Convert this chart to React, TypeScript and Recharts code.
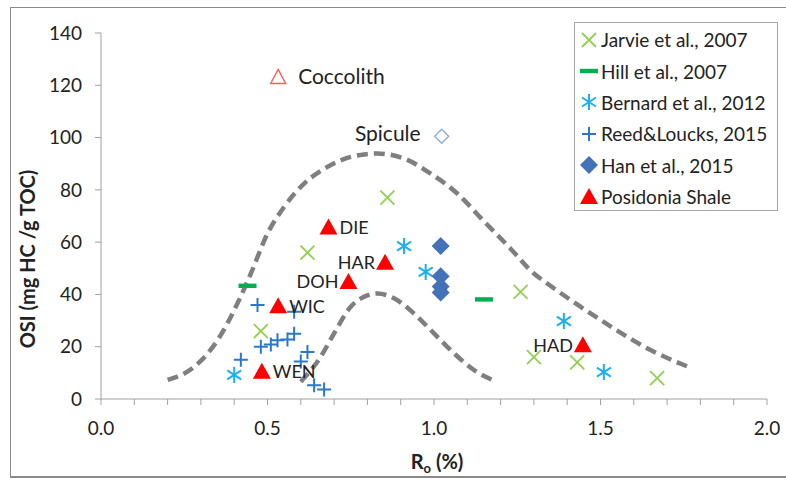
import React from 'react';
import { ScatterChart, Scatter, XAxis, YAxis, Legend } from 'recharts';

// ---------- data ----------
const xTicks = [0, 0.1, 0.2, 0.3, 0.4, 0.5, 0.6, 0.7, 0.8, 0.9, 1.0, 1.1, 1.2, 1.3, 1.4, 1.5, 1.6, 1.7, 1.8, 1.9, 2.0];
const yTicks = [0, 20, 40, 60, 80, 100, 120, 140];

const jarvie = [
  { x: 0.48, y: 26 }, { x: 0.62, y: 56 }, { x: 0.86, y: 77 }, { x: 1.26, y: 41 },
  { x: 1.30, y: 16 }, { x: 1.43, y: 14 }, { x: 1.67, y: 8 },
];
const hill = [{ x: 0.44, y: 43.3 }, { x: 1.15, y: 38.1 }];
const bernard = [
  { x: 0.40, y: 9.2 }, { x: 0.91, y: 58.5 }, { x: 0.975, y: 48.6 }, { x: 1.39, y: 29.8 }, { x: 1.51, y: 10.3 },
];
const reed = [
  { x: 0.42, y: 15 }, { x: 0.47, y: 36 }, { x: 0.48, y: 20 }, { x: 0.51, y: 20.8 },
  { x: 0.53, y: 22.5 }, { x: 0.56, y: 22.8 }, { x: 0.58, y: 25 }, { x: 0.58, y: 33.4 },
  { x: 0.60, y: 14.3 }, { x: 0.62, y: 18 }, { x: 0.64, y: 5.3 }, { x: 0.67, y: 3.6 },
];
const han = [{ x: 1.02, y: 58.5 }, { x: 1.02, y: 47 }, { x: 1.02, y: 43 }, { x: 1.02, y: 40.7 }];
const posidonia = [
  { x: 0.683, y: 65.6, name: 'DIE' }, { x: 0.853, y: 52.1, name: 'HAR' }, { x: 0.743, y: 44.8, name: 'DOH' },
  { x: 0.532, y: 35.5, name: 'WIC' }, { x: 0.483, y: 10.4, name: 'WEN' }, { x: 1.447, y: 20.6, name: 'HAD' },
];
const coccolith = [{ x: 0.532, y: 123 }];
const spicule = [{ x: 1.023, y: 100.5 }];

const upperEnvelope = [
  { x: 0.20, y: 7.3 }, { x: 0.28, y: 12.3 }, { x: 0.35, y: 22.5 }, { x: 0.41, y: 36.6 }, { x: 0.45, y: 48 },
  { x: 0.50, y: 63.3 }, { x: 0.55, y: 73.5 }, { x: 0.61, y: 82.4 }, { x: 0.68, y: 88.8 }, { x: 0.75, y: 92.6 },
  { x: 0.83, y: 93.9 }, { x: 0.91, y: 92 }, { x: 0.99, y: 86.2 }, { x: 1.07, y: 78.6 }, { x: 1.15, y: 68 },
  { x: 1.23, y: 57.5 }, { x: 1.30, y: 48 }, { x: 1.34, y: 44.2 }, { x: 1.44, y: 35.3 }, { x: 1.54, y: 27 },
  { x: 1.64, y: 19.4 }, { x: 1.77, y: 12 },
];
const lowerEnvelope = [
  { x: 0.60, y: 6.6 }, { x: 0.66, y: 16.2 }, { x: 0.70, y: 25.1 }, { x: 0.75, y: 35.3 }, { x: 0.79, y: 39.1 },
  { x: 0.83, y: 40.4 }, { x: 0.88, y: 38.5 }, { x: 0.94, y: 32.7 }, { x: 1.00, y: 25.1 }, { x: 1.06, y: 17.5 },
  { x: 1.12, y: 11.1 }, { x: 1.18, y: 7 },
];

const legendItems = [
  { key: 'jarvie', label: 'Jarvie et al., 2007' },
  { key: 'hill', label: 'Hill et al., 2007' },
  { key: 'bernard', label: 'Bernard et al., 2012' },
  { key: 'reed', label: 'Reed&Loucks, 2015' },
  { key: 'han', label: 'Han et al., 2015' },
  { key: 'posidonia', label: 'Posidonia Shale' },
];

// ---------- styles ----------
const FONT = 'Lato, "Open Sans", sans-serif';
const C = {
  jarvie: '#92D050',
  hill: '#00B050',
  bernard: '#1CB0F0',
  reed: '#2C78C6',
  han: '#4472B8',
  posidonia: '#FF0000',
  coccolith: '#FF5A5A',
  spicule: '#8EAADB',
  envelope: '#7F7F7F',
  text: '#222222',
  axis: '#A0A0A0',
};
const labelSide: Record<string, 'left' | 'right'> = {
  DIE: 'right', HAR: 'left', DOH: 'left', WIC: 'right', WEN: 'right', HAD: 'left',
};

// ---------- marker glyphs ----------
const XMark = ({ cx, cy }: any) => (
  <path d={`M${cx - 7},${cy - 7}L${cx + 7},${cy + 7}M${cx - 7},${cy + 7}L${cx + 7},${cy - 7}`} stroke={C.jarvie} strokeWidth={1.8} fill="none" />
);
const Dash = ({ cx, cy }: any) => <rect x={cx - 9} y={cy - 2.2} width={18} height={4.4} fill={C.hill} />;
const Star = ({ cx, cy }: any) => (
  <path
    d={`M${cx},${cy - 8}L${cx},${cy + 8}M${cx - 7},${cy - 4.5}L${cx + 7},${cy + 4.5}M${cx - 7},${cy + 4.5}L${cx + 7},${cy - 4.5}`}
    stroke={C.bernard} strokeWidth={2} fill="none"
  />
);
const Plus = ({ cx, cy }: any) => (
  <path d={`M${cx - 7},${cy}L${cx + 7},${cy}M${cx},${cy - 7}L${cx},${cy + 7}`} stroke={C.reed} strokeWidth={2} fill="none" />
);
const Diamond = ({ cx, cy }: any) => (
  <path d={`M${cx},${cy - 9}L${cx + 9},${cy}L${cx},${cy + 9}L${cx - 9},${cy}Z`} fill={C.han} />
);
const Tri = ({ cx, cy }: any) => (
  <path d={`M${cx},${cy - 9}L${cx + 9},${cy + 7}L${cx - 9},${cy + 7}Z`} fill={C.posidonia} />
);
const TriLabeled = (props: any) => {
  const { cx, cy, payload } = props;
  const side = labelSide[payload.name];
  return (
    <g>
      <Tri cx={cx} cy={cy} />
      <text
        x={side === 'right' ? cx + 11 : cx - 10}
        y={cy + 2}
        textAnchor={side === 'right' ? 'start' : 'end'}
        dominantBaseline="middle"
        fontFamily={FONT}
        fontSize={18}
        fill={C.text}
      >
        {payload.name}
      </text>
    </g>
  );
};
const OpenTri = ({ cx, cy }: any) => (
  <g>
    <path d={`M${cx},${cy - 8}L${cx + 7.5},${cy + 6}L${cx - 7.5},${cy + 6}Z`} fill="none" stroke={C.coccolith} strokeWidth={1.4} />
    <text x={cx + 20} y={cy + 1} dominantBaseline="middle" fontFamily={FONT} fontSize={21} fill={C.text}>Coccolith</text>
  </g>
);
const OpenDiamond = ({ cx, cy }: any) => (
  <g>
    <path d={`M${cx},${cy - 7}L${cx + 7},${cy}L${cx},${cy + 7}L${cx - 7},${cy}Z`} fill="none" stroke={C.spicule} strokeWidth={1.4} />
    <text x={cx - 21} y={cy - 1} textAnchor="end" dominantBaseline="middle" fontFamily={FONT} fontSize={21} fill={C.text}>Spicule</text>
  </g>
);
const Nothing = () => <g />;

const legendGlyph: Record<string, (p: any) => React.ReactElement> = {
  jarvie: XMark, hill: Dash, bernard: Star, reed: Plus, han: Diamond, posidonia: Tri,
};

const renderLegend = () => (
  <div
    style={{
      width: 204,
      height: 189,
      border: '1.5px solid #A6A6A6',
      background: '#fff',
      boxSizing: 'border-box',
      paddingTop: 1,
    }}
  >
    {legendItems.map((it) => {
      const G = legendGlyph[it.key];
      return (
        <div key={it.key} style={{ display: 'flex', alignItems: 'center', height: 31.4 }}>
          <svg width={26} height={24} style={{ flex: 'none' }}>
            <G cx={14} cy={12} />
          </svg>
          <span style={{ fontFamily: FONT, fontSize: 19, color: C.text, whiteSpace: 'nowrap' }}>{it.label}</span>
        </div>
      );
    })}
  </div>
);

const XTitle = ({ viewBox }: any) => {
  const cx = viewBox.x + viewBox.width / 2 + 3;
  return (
    <text x={cx} y={469} textAnchor="middle" fontFamily={FONT} fontSize={20} fontWeight={700} fill={C.text}>
      R<tspan fontSize={13} dy={4}>o</tspan>
      <tspan dy={-4}> (%)</tspan>
    </text>
  );
};
const YTitle = () => (
  <text
    transform="translate(30,259) rotate(-90)"
    textAnchor="middle"
    dominantBaseline="middle"
    fontFamily={FONT}
    fontSize={20}
    fontWeight={700}
    fill={C.text}
  >
    OSI (mg HC /g TOC)
  </text>
);

export default function App() {
  return (
    <div style={{ position: 'absolute', left: 0, top: 0, width: 786, height: 479, overflow: 'hidden', background: '#fff' }}>
      <div
        style={{
          position: 'absolute', left: 10, top: 7, width: 800, height: 468,
          borderLeft: '1px solid #8a8a8a', borderTop: '1px solid #8a8a8a', borderBottom: '2px solid #8a8a8a',
        }}
      />
      <div style={{ position: 'absolute', left: 0, top: 0 }}>
        <ScatterChart width={786} height={479} margin={{ top: 33, right: 19, bottom: 0, left: 0 }}>
          <XAxis
            type="number"
            dataKey="x"
            domain={[0, 2]}
            ticks={xTicks}
            interval={0}
            height={80}
            tickSize={6}
            tickMargin={17}
            tickFormatter={(v: number) => (Math.round(v * 10) % 5 === 0 ? v.toFixed(1) : '')}
            tick={{ fontFamily: FONT, fontSize: 19, fill: C.text }}
            stroke={C.axis}
            label={<XTitle />}
          />
          <YAxis
            type="number"
            dataKey="y"
            domain={[0, 140]}
            ticks={yTicks}
            interval={0}
            width={101}
            tickSize={6}
            tickMargin={13}
            tick={{ fontFamily: FONT, fontSize: 19, fill: C.text }}
            stroke={C.axis}
            label={<YTitle />}
          />
          <Scatter data={upperEnvelope} shape={<Nothing />} line={{ stroke: C.envelope, strokeWidth: 4.5, strokeDasharray: '11 6' }} lineJointType="monotoneX" isAnimationActive={false} />
          <Scatter data={lowerEnvelope} shape={<Nothing />} line={{ stroke: C.envelope, strokeWidth: 4.5, strokeDasharray: '11 6' }} lineJointType="monotoneX" isAnimationActive={false} />
          <Scatter name="Jarvie et al., 2007" data={jarvie} shape={<XMark />} isAnimationActive={false} />
          <Scatter name="Hill et al., 2007" data={hill} shape={<Dash />} isAnimationActive={false} />
          <Scatter name="Bernard et al., 2012" data={bernard} shape={<Star />} isAnimationActive={false} />
          <Scatter name="Reed&Loucks, 2015" data={reed} shape={<Plus />} isAnimationActive={false} />
          <Scatter name="Han et al., 2015" data={han} shape={<Diamond />} isAnimationActive={false} />
          <Scatter name="Posidonia Shale" data={posidonia} shape={<TriLabeled />} isAnimationActive={false} />
          <Scatter data={coccolith} shape={<OpenTri />} isAnimationActive={false} />
          <Scatter data={spicule} shape={<OpenDiamond />} isAnimationActive={false} />
          <Legend
            layout="vertical"
            align="center"
            verticalAlign="middle"
            content={renderLegend}
            wrapperStyle={{ left: 574, top: 22, width: 206, height: 191 }}
          />
        </ScatterChart>
      </div>
    </div>
  );
}
